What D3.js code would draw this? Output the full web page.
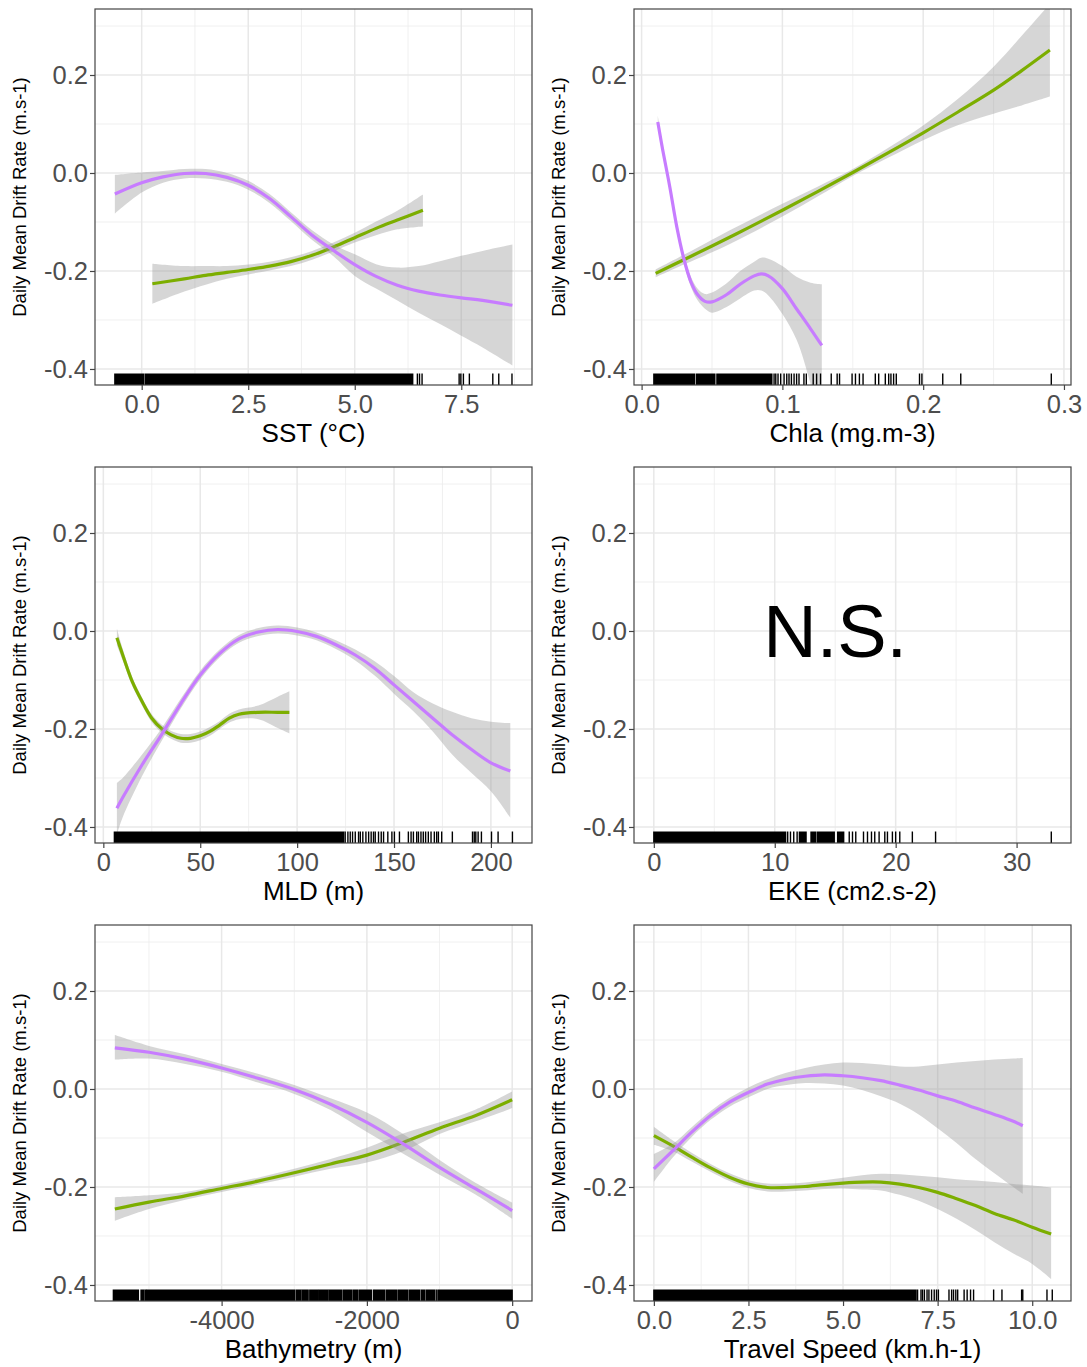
<!DOCTYPE html>
<html><head><meta charset="utf-8">
<script src="https://cdn.jsdelivr.net/npm/d3@7"></script>
<style>
body{margin:0;background:#fff;}
text{font-family:"Liberation Sans", Arial, Helvetica, sans-serif;}
</style>
</head><body>
<svg id="chart" width="1087" height="1367"></svg>
<script>
// ---------------- shared y axis ----------------
const yTicks = [-0.4, -0.2, 0.0, 0.2];
const yTickLabels = ["-0.4", "-0.2", "0.0", "0.2"];
const yMinorTicks = [-0.3, -0.1, 0.1, 0.3];
const yLimits = [-0.4327, 0.3347];
const yTitle = "Daily Mean Drift Rate (m.s-1)";

// ---------------- panel titles / x axes ----------------
const xTitles = ["SST (°C)", "Chla (mg.m-3)", "MLD (m)", "EKE (cm2.s-2)", "Bathymetry (m)", "Travel Speed (km.h-1)"];
const sstLimits = [-1.096, 9.16];
const sstTicks = [0, 2.5, 5, 7.5];
const sstTickLabels = ["0.0", "2.5", "5.0", "7.5"];
const chlaLimits = [-0.0054, 0.3050];
const chlaTicks = [0, 0.1, 0.2, 0.3];
const chlaTickLabels = ["0.0", "0.1", "0.2", "0.3"];
const mldLimits = [-4.3, 221.2];
const mldTicks = [0, 50, 100, 150, 200];
const mldTickLabels = ["0", "50", "100", "150", "200"];
const ekeLimits = [-1.64, 34.5];
const ekeTicks = [0, 10, 20, 30];
const ekeTickLabels = ["0", "10", "20", "30"];
const bathyLimits = [-5743, 273];
const bathyTicks = [-4000, -2000, 0];
const bathyTickLabels = ["-4000", "-2000", "0"];
const speedLimits = [-0.525, 11.025];
const speedTicks = [0, 2.5, 5, 7.5, 10];
const speedTickLabels = ["0.0", "2.5", "5.0", "7.5", "10.0"];

// ---------------- SST ----------------
const sstPurpleX  = [-0.63, 0, 0.5, 1.0, 1.5, 2.0, 2.5, 3.0, 3.5, 4.0, 4.5, 5.0, 5.5, 6.0, 6.5, 7.0, 7.5, 8.0, 8.7];
const sstPurpleY  = [-0.043, -0.020, -0.008, -0.001, -0.001, -0.009, -0.025, -0.052, -0.089, -0.127, -0.158, -0.187, -0.211, -0.229, -0.241, -0.249, -0.255, -0.260, -0.270];
const sstPurpleLo = [-0.083, -0.040, -0.020, -0.011, -0.011, -0.018, -0.034, -0.061, -0.098, -0.137, -0.170, -0.210, -0.236, -0.260, -0.285, -0.308, -0.332, -0.356, -0.393];
const sstPurpleHi = [-0.004, 0.001, 0.004, 0.008, 0.008, 0.000, -0.016, -0.043, -0.080, -0.117, -0.146, -0.166, -0.186, -0.193, -0.190, -0.180, -0.169, -0.159, -0.146];
const sstGreenX  = [0.25, 1.0, 1.5, 2.0, 2.5, 3.0, 3.5, 4.0, 4.5, 5.0, 5.5, 6.0, 6.6];
const sstGreenY  = [-0.226, -0.216, -0.209, -0.203, -0.197, -0.190, -0.181, -0.168, -0.151, -0.132, -0.113, -0.096, -0.076];
const sstGreenLo = [-0.267, -0.242, -0.228, -0.216, -0.207, -0.199, -0.190, -0.177, -0.160, -0.142, -0.127, -0.115, -0.109];
const sstGreenHi = [-0.185, -0.190, -0.190, -0.190, -0.187, -0.181, -0.172, -0.159, -0.142, -0.122, -0.099, -0.077, -0.044];
const sstRugRanges = [[-0.63, 0.05], [0.09, 6.36]];
const sstRugTicks = [6.47, 6.52, 6.58, 7.45, 7.49, 7.55, 7.69, 8.24, 8.38, 8.69];

// ---------------- Chla ----------------
const chlaPurpleX  = [0.0115, 0.015, 0.02, 0.025, 0.03, 0.035, 0.04, 0.045, 0.05, 0.06, 0.07, 0.08, 0.085, 0.09, 0.1, 0.11, 0.12, 0.128];
const chlaPurpleY  = [0.104, 0.047, -0.028, -0.110, -0.175, -0.222, -0.249, -0.262, -0.263, -0.249, -0.227, -0.210, -0.206, -0.210, -0.236, -0.277, -0.318, -0.352];
const chlaPurpleLo = [0.093, 0.037, -0.037, -0.119, -0.184, -0.232, -0.261, -0.277, -0.285, -0.274, -0.256, -0.240, -0.240, -0.250, -0.288, -0.340, -0.430, -0.520];
const chlaPurpleHi = [0.117, 0.057, -0.019, -0.101, -0.166, -0.212, -0.237, -0.247, -0.244, -0.226, -0.200, -0.181, -0.173, -0.175, -0.190, -0.212, -0.224, -0.227];
const chlaGreenX  = [0.01, 0.03, 0.05, 0.075, 0.1, 0.125, 0.15, 0.175, 0.2, 0.225, 0.25, 0.27, 0.29];
const chlaGreenY  = [-0.205, -0.177, -0.149, -0.113, -0.076, -0.038, 0.001, 0.041, 0.082, 0.125, 0.169, 0.209, 0.251];
const chlaGreenLo = [-0.213, -0.187, -0.162, -0.127, -0.089, -0.048, -0.006, 0.031, 0.067, 0.098, 0.121, 0.138, 0.156];
const chlaGreenHi = [-0.197, -0.167, -0.136, -0.099, -0.063, -0.028, 0.008, 0.051, 0.097, 0.152, 0.217, 0.280, 0.345];
const chlaRugRanges = [[0.0087, 0.0375], [0.0389, 0.0520], [0.0535, 0.0925]];
const chlaRugTicks = [0.0941, 0.0953, 0.0969, 0.0988, 0.1012, 0.1031, 0.1047, 0.1064, 0.1083, 0.1101, 0.1118, 0.1153, 0.1170,
  0.1219, 0.1243, 0.1271, 0.1347, 0.1389, 0.1406, 0.1495, 0.1519, 0.1547, 0.1573, 0.1660, 0.1684, 0.1731, 0.1755,
  0.1771, 0.1790, 0.1809, 0.1974, 0.1991, 0.2139, 0.2267, 0.2910];

// ---------------- MLD ----------------
const mldPurpleX  = [7, 10, 20, 30, 40, 50, 60, 70, 80, 90, 100, 110, 120, 130, 140, 150, 160, 170, 180, 190, 200, 210];
const mldPurpleY  = [-0.362, -0.340, -0.273, -0.212, -0.148, -0.090, -0.046, -0.016, -0.002, 0.003, -0.001, -0.011, -0.028, -0.049, -0.076, -0.110, -0.144, -0.178, -0.212, -0.242, -0.269, -0.286];
const mldPurpleLo = [-0.415, -0.380, -0.296, -0.225, -0.158, -0.099, -0.054, -0.024, -0.010, -0.005, -0.009, -0.019, -0.037, -0.060, -0.091, -0.128, -0.164, -0.205, -0.252, -0.290, -0.327, -0.381];
const mldPurpleHi = [-0.310, -0.300, -0.252, -0.199, -0.138, -0.081, -0.038, -0.008, 0.006, 0.011, 0.007, -0.003, -0.019, -0.038, -0.062, -0.092, -0.125, -0.148, -0.165, -0.178, -0.185, -0.188];
const mldGreenX  = [7, 10, 15, 20, 25, 30, 35, 40, 45, 50, 55, 60, 65, 70, 80, 90, 96];
const mldGreenY  = [-0.014, -0.049, -0.104, -0.144, -0.178, -0.199, -0.212, -0.219, -0.219, -0.214, -0.205, -0.192, -0.178, -0.170, -0.166, -0.166, -0.166];
const mldGreenLo = [-0.029, -0.060, -0.113, -0.152, -0.186, -0.207, -0.220, -0.228, -0.228, -0.223, -0.214, -0.200, -0.187, -0.180, -0.180, -0.198, -0.209];
const mldGreenHi = [0.005, -0.036, -0.095, -0.136, -0.170, -0.191, -0.204, -0.210, -0.210, -0.205, -0.196, -0.184, -0.169, -0.160, -0.152, -0.134, -0.123];
const mldRugRanges = [[5.7, 124.0]];
const mldRugTicks = [124.8, 126.2, 127.4, 128.6, 130.0, 131.7, 132.6, 133.9, 135.5, 136.9, 138.2, 139.4, 140.3, 142.0,
  143.4, 144.6, 146.8, 148.9, 150.2, 152.8, 157.4, 158.8, 160.0, 161.7, 162.6, 163.9, 165.1, 166.3, 167.7, 169.1,
  170.8, 172.0, 172.9, 174.6, 180.1, 190.5, 191.4, 192.2, 193.4, 195.1, 200.3, 203.7, 211.1];

// ---------------- EKE (not significant) ----------------
const ekeLabel = "N.S.";
const ekeLabelPos = [15, 0.0];
const ekeRugRanges = [[0.0, 10.9], [12.04, 12.59], [13.0, 13.4], [13.55, 14.92], [15.2, 15.7]];
const ekeRugTicks = [11.07, 11.3, 11.57, 11.85, 16.16, 16.43, 16.7, 17.34, 17.67, 18.0, 18.27, 18.63, 19.1, 19.32, 19.73, 20.0, 20.34, 21.38, 23.3, 32.87];

// ---------------- Bathymetry ----------------
const bathyX = [-5470, -5000, -4500, -4000, -3500, -3000, -2500, -2000, -1500, -1000, -500, 0];
const bathyPurpleY  = [0.084, 0.075, 0.061, 0.043, 0.022, -0.001, -0.031, -0.068, -0.112, -0.160, -0.204, -0.248];
const bathyPurpleLo = [0.060, 0.062, 0.051, 0.035, 0.013, -0.010, -0.043, -0.088, -0.132, -0.175, -0.216, -0.265];
const bathyPurpleHi = [0.110, 0.088, 0.071, 0.051, 0.031, 0.008, -0.019, -0.048, -0.092, -0.145, -0.192, -0.232];
const bathyGreenY  = [-0.245, -0.231, -0.218, -0.203, -0.188, -0.171, -0.153, -0.135, -0.109, -0.080, -0.054, -0.022];
const bathyGreenLo = [-0.269, -0.245, -0.226, -0.210, -0.195, -0.179, -0.163, -0.150, -0.127, -0.092, -0.066, -0.039];
const bathyGreenHi = [-0.221, -0.217, -0.210, -0.196, -0.181, -0.163, -0.143, -0.120, -0.091, -0.068, -0.042, -0.005];
const bathyRugRanges = [[-5490, -5146], [-5109, -5073], [-5054, -5036], [-5022, -2992], [-2969, -2910], [-2892, -2809],
  [-2786, -2681], [-2663, -2534], [-2516, -2351], [-2328, -2213], [-2191, -2122], [-2099, -1939], [-1893, -1755],
  [-1732, -1595], [-1572, -1435], [-1412, -1274], [-1251, -1205], [-1183, -1068], [-1022, 0]];
const bathyRugTicks = [-1910, -1045];

// ---------------- Travel speed ----------------
const speedPurpleX  = [0, 0.5, 1.0, 1.5, 2.0, 2.5, 3.0, 3.5, 4.0, 4.5, 5.0, 5.5, 6.0, 6.5, 7.0, 7.5, 8.0, 8.5, 9.0, 9.5, 9.75];
const speedPurpleY  = [-0.163, -0.126, -0.088, -0.054, -0.027, -0.007, 0.010, 0.020, 0.026, 0.029, 0.027, 0.023, 0.017, 0.008, -0.002, -0.014, -0.025, -0.039, -0.052, -0.066, -0.075];
const speedPurpleLo = [-0.190, -0.140, -0.098, -0.063, -0.036, -0.017, 0.000, 0.008, 0.012, 0.011, 0.007, -0.002, -0.015, -0.030, -0.052, -0.080, -0.110, -0.143, -0.172, -0.200, -0.214];
const speedPurpleHi = [-0.133, -0.112, -0.078, -0.045, -0.018, 0.003, 0.020, 0.033, 0.043, 0.050, 0.054, 0.053, 0.050, 0.046, 0.046, 0.050, 0.054, 0.057, 0.060, 0.062, 0.063];
const speedGreenX  = [0, 0.5, 1.0, 1.5, 2.0, 2.5, 3.0, 3.5, 4.0, 4.5, 5.0, 5.5, 6.0, 6.5, 7.0, 7.5, 8.0, 8.5, 9.0, 9.5, 10.0, 10.5];
const speedGreenY  = [-0.095, -0.116, -0.139, -0.161, -0.180, -0.194, -0.201, -0.201, -0.199, -0.195, -0.192, -0.190, -0.190, -0.194, -0.201, -0.211, -0.224, -0.238, -0.254, -0.267, -0.282, -0.296];
const speedGreenLo = [-0.114, -0.127, -0.148, -0.169, -0.188, -0.202, -0.209, -0.209, -0.207, -0.204, -0.203, -0.205, -0.207, -0.216, -0.228, -0.245, -0.265, -0.288, -0.313, -0.336, -0.357, -0.388];
const speedGreenHi = [-0.077, -0.105, -0.130, -0.153, -0.172, -0.186, -0.193, -0.193, -0.191, -0.186, -0.181, -0.176, -0.173, -0.174, -0.177, -0.180, -0.184, -0.187, -0.190, -0.194, -0.197, -0.201];
const speedRugRanges = [[0.0, 6.93]];
const speedRugTicks = [6.97, 7.06, 7.10, 7.15, 7.22, 7.27, 7.34, 7.41, 7.47, 7.52, 7.80, 7.87, 7.92, 7.98, 8.03, 8.20, 8.28, 8.37, 8.45, 8.98, 9.20, 9.72, 9.75, 10.39, 10.53];

// ---------------- colours ----------------
const colorGreen = "#7CAE00";
const colorPurple = "#C77CFF";

// ---------------- assemble ----------------
function series(xs, ys, lo, hi, color) {
  return { color, pts: xs.map((x, i) => ({ x, y: ys[i], lo: lo[i], hi: hi[i] })) };
}
const panels = [
  { title: xTitles[0], lim: sstLimits, ticks: sstTicks, labels: sstTickLabels,
    series: [series(sstGreenX, sstGreenY, sstGreenLo, sstGreenHi, colorGreen),
             series(sstPurpleX, sstPurpleY, sstPurpleLo, sstPurpleHi, colorPurple)],
    rugR: sstRugRanges, rugT: sstRugTicks },
  { title: xTitles[1], lim: chlaLimits, ticks: chlaTicks, labels: chlaTickLabels,
    series: [series(chlaGreenX, chlaGreenY, chlaGreenLo, chlaGreenHi, colorGreen),
             series(chlaPurpleX, chlaPurpleY, chlaPurpleLo, chlaPurpleHi, colorPurple)],
    rugR: chlaRugRanges, rugT: chlaRugTicks },
  { title: xTitles[2], lim: mldLimits, ticks: mldTicks, labels: mldTickLabels,
    series: [series(mldGreenX, mldGreenY, mldGreenLo, mldGreenHi, colorGreen),
             series(mldPurpleX, mldPurpleY, mldPurpleLo, mldPurpleHi, colorPurple)],
    rugR: mldRugRanges, rugT: mldRugTicks },
  { title: xTitles[3], lim: ekeLimits, ticks: ekeTicks, labels: ekeTickLabels,
    series: [], note: ekeLabel, notePos: ekeLabelPos,
    rugR: ekeRugRanges, rugT: ekeRugTicks },
  { title: xTitles[4], lim: bathyLimits, ticks: bathyTicks, labels: bathyTickLabels,
    series: [series(bathyX, bathyGreenY, bathyGreenLo, bathyGreenHi, colorGreen),
             series(bathyX, bathyPurpleY, bathyPurpleLo, bathyPurpleHi, colorPurple)],
    rugR: bathyRugRanges, rugT: bathyRugTicks },
  { title: xTitles[5], lim: speedLimits, ticks: speedTicks, labels: speedTickLabels,
    series: [series(speedGreenX, speedGreenY, speedGreenLo, speedGreenHi, colorGreen),
             series(speedPurpleX, speedPurpleY, speedPurpleLo, speedPurpleHi, colorPurple)],
    rugR: speedRugRanges, rugT: speedRugTicks }
];

const svg = d3.select("#chart");
const W = 437, H = 376;
const colLeft = [95, 634];
const rowTop = [9, 467, 925];

panels.forEach((p, i) => {
  const col = i % 2, row = Math.floor(i / 2);
  const g = svg.append("g").attr("transform", `translate(${colLeft[col]},${rowTop[row]})`);
  const x = d3.scaleLinear().domain(p.lim).range([0, W]);
  const y = d3.scaleLinear().domain(yLimits).range([H, 0]);

  // minor x ticks: midpoints between majors, extended one step each side
  const step = p.ticks[1] - p.ticks[0];
  const xMinor = [p.ticks[0] - step / 2].concat(p.ticks.map(t => t + step / 2))
    .filter(v => v > p.lim[0] && v < p.lim[1]);

  g.append("rect").attr("width", W).attr("height", H).attr("fill", "#fff");
  const grid = g.append("g");
  grid.selectAll(".ymin").data(yMinorTicks).enter().append("line")
    .attr("x1", 0).attr("x2", W).attr("y1", d => y(d)).attr("y2", d => y(d))
    .attr("stroke", "#ececec").attr("stroke-width", 0.8);
  grid.selectAll(".xmin").data(xMinor).enter().append("line")
    .attr("y1", 0).attr("y2", H).attr("x1", d => x(d)).attr("x2", d => x(d))
    .attr("stroke", "#ececec").attr("stroke-width", 0.8);
  grid.selectAll(".ymaj").data(yTicks).enter().append("line")
    .attr("x1", 0).attr("x2", W).attr("y1", d => y(d)).attr("y2", d => y(d))
    .attr("stroke", "#e8e8e8").attr("stroke-width", 1.5);
  grid.selectAll(".xmaj").data(p.ticks).enter().append("line")
    .attr("y1", 0).attr("y2", H).attr("x1", d => x(d)).attr("x2", d => x(d))
    .attr("stroke", "#e8e8e8").attr("stroke-width", 1.5);

  const clipId = "clip" + i;
  g.append("clipPath").attr("id", clipId).append("rect").attr("width", W).attr("height", H);
  const plot = g.append("g").attr("clip-path", `url(#${clipId})`);

  const curve = d3.curveCatmullRom.alpha(0.5);
  const area = d3.area().x(d => x(d.x)).y0(d => y(d.lo)).y1(d => y(d.hi)).curve(curve);
  const line = d3.line().x(d => x(d.x)).y(d => y(d.y)).curve(curve);
  p.series.forEach(s => {
    plot.append("path").attr("d", area(s.pts)).attr("fill", "#999999").attr("fill-opacity", 0.4);
    plot.append("path").attr("d", line(s.pts)).attr("fill", "none")
      .attr("stroke", s.color).attr("stroke-width", 3.2).attr("stroke-linecap", "butt");
  });

  // rug
  const rugLen = 11.5;
  plot.selectAll(".rugr").data(p.rugR).enter().append("rect")
    .attr("x", d => x(d[0]) - 0.7).attr("width", d => x(d[1]) - x(d[0]) + 1.4)
    .attr("y", H - rugLen).attr("height", rugLen).attr("fill", "#000");
  plot.selectAll(".rugt").data(p.rugT).enter().append("line")
    .attr("x1", d => x(d)).attr("x2", d => x(d)).attr("y1", H - rugLen).attr("y2", H)
    .attr("stroke", "#000").attr("stroke-width", 1.4);

  if (p.note) {
    g.append("text").attr("x", x(p.notePos[0])).attr("y", y(p.notePos[1])).attr("dy", "0.358em")
      .attr("text-anchor", "middle").attr("font-size", 74).attr("fill", "#000").text(p.note);
  }

  g.append("rect").attr("width", W).attr("height", H).attr("fill", "none")
    .attr("stroke", "#444").attr("stroke-width", 1.2);

  // axes
  const yAxis = d3.axisLeft(y).tickValues(yTicks).tickFormat((d, k) => yTickLabels[k]).tickSize(5).tickPadding(2);
  const ya = g.append("g").call(yAxis);
  const xAxis = d3.axisBottom(x).tickValues(p.ticks).tickFormat((d, k) => p.labels[k]).tickSize(5).tickPadding(5);
  const xa = g.append("g").attr("transform", `translate(0,${H})`).call(xAxis);
  [ya, xa].forEach(a => {
    a.select(".domain").remove();
    a.selectAll(".tick line").attr("stroke", "#444").attr("stroke-width", 1.2);
    a.selectAll(".tick text").attr("fill", "#4d4d4d").attr("font-size", 25.5)
      .attr("font-family", "'Liberation Sans', Arial, sans-serif");
  });

  g.append("text").attr("x", W / 2).attr("y", H + 57).attr("text-anchor", "middle")
    .attr("font-size", 26).attr("fill", "#000").text(p.title);
  g.append("text").attr("transform", `translate(-75,${H / 2}) rotate(-90)`)
    .attr("dy", "0.35em").attr("text-anchor", "middle").attr("font-size", 18.5).attr("fill", "#000").text(yTitle);
});
</script>
</body></html>
